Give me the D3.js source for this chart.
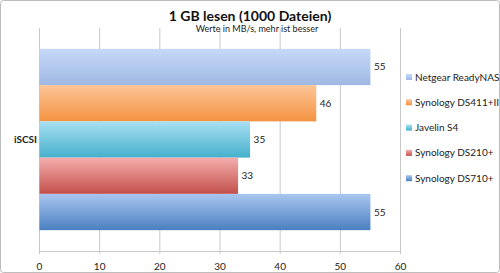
<!DOCTYPE html>
<html>
<head>
<meta charset="utf-8">
<script src="https://cdn.jsdelivr.net/npm/d3@7"></script>
<style>
  body { margin: 0; background: #fff; }
  svg { display: block; font-family: Lato, "Open Sans", sans-serif; }
</style>
</head>
<body>
<svg id="chart" width="500" height="273"></svg>
<script>
// data
const category = 'iSCSI'
const devices = ['Netgear ReadyNAS', 'Synology DS411+II', 'Javelin S4', 'Synology DS210+', 'Synology DS710+']
const values = [55, 46, 35, 33, 55]
const xTicks = [0, 10, 20, 30, 40, 50, 60]
// gradient top / bottom colours per series
const colorsTop = ['#c6d9f8', '#fcc597', '#a9e0f2', '#f4aeac', '#aac6f0']
const colorsBottom = ['#9fb8e3', '#f59343', '#45b0cb', '#c3504c', '#4a7fc0']

const svg = d3.select('#chart')
const W = 500, H = 273
const m = {left: 39, right: 100, top: 28, bottom: 22}

// outer frame
svg.append('rect')
    .attr('x', 0.5).attr('y', 0.5)
    .attr('width', W - 1).attr('height', H - 1)
    .attr('rx', 3)
    .style('fill', '#fff')
    .style('stroke', '#bdbdbd')

const defs = svg.append('defs')
devices.forEach((d, i) => {
    const g = defs.append('linearGradient')
        .attr('id', 'grad' + i)
        .attr('x1', 0).attr('y1', 0).attr('x2', 0).attr('y2', 1)
    g.append('stop').attr('offset', '0%').attr('stop-color', colorsTop[i])
    g.append('stop').attr('offset', '100%').attr('stop-color', colorsBottom[i])
})

const x = d3.scaleLinear().domain([0, 60]).range([m.left, W - m.right])
const yCat = d3.scaleBand().domain([category]).range([m.top, H - m.bottom]).paddingInner(0).paddingOuter(0.115)
const y = d3.scaleBand().domain(devices).range([yCat(category), yCat(category) + yCat.bandwidth()])

// grid lines
svg.append('g')
    .selectAll('line')
    .data(xTicks)
    .enter()
    .append('line')
        .attr('x1', d => x(d) + 0.5)
        .attr('x2', d => x(d) + 0.5)
        .attr('y1', m.top)
        .attr('y2', H - m.bottom + 3)
        .style('stroke', '#c8c8c8')

// bottom axis
svg.append('line')
    .attr('x1', x(0)).attr('x2', x(60) + 1)
    .attr('y1', H - m.bottom + 0.5).attr('y2', H - m.bottom + 0.5)
    .style('stroke', '#c8c8c8')

svg.append('g')
    .selectAll('text')
    .data(xTicks)
    .enter()
    .append('text')
        .attr('x', d => x(d) + 0.5)
        .attr('y', 270)
        .attr('text-anchor', 'middle')
        .style('font-size', '10px')
        .style('fill', '#222')
        .text(d => d)

// bars
svg.append('g')
    .selectAll('rect')
    .data(values)
    .enter()
    .append('rect')
        .attr('x', x(0) + 0.5)
        .attr('y', (d, i) => y(devices[i]))
        .attr('width', d => x(d) - x(0))
        .attr('height', y.bandwidth())
        .style('fill', (d, i) => 'url(#grad' + i + ')')

// value labels
svg.append('g')
    .selectAll('text')
    .data(values)
    .enter()
    .append('text')
        .attr('x', d => x(d) + 4)
        .attr('y', (d, i) => y(devices[i]) + y.bandwidth() / 2 + 3.5)
        .style('font-size', '10px')
        .style('fill', '#222')
        .text(d => d)

// category label
svg.append('text')
    .attr('x', 14)
    .attr('y', yCat(category) + yCat.bandwidth() / 2 + 3.5)
    .style('font-size', '10px')
    .style('font-weight', 'bold')
    .style('fill', '#222')
    .text(category)

// title
svg.append('text')
    .attr('x', 250).attr('y', 21)
    .attr('text-anchor', 'middle')
    .style('font-size', '14px')
    .style('font-weight', 'bold')
    .style('fill', '#111')
    .text('1 GB lesen (1000 Dateien)')

svg.append('text')
    .attr('x', 257).attr('y', 32)
    .attr('text-anchor', 'middle')
    .style('font-size', '9px')
    .style('fill', '#222')
    .text('Werte in MB/s, mehr ist besser')

// legend
const legend = svg.append('g')
    .selectAll('g')
    .data(devices)
    .enter()
    .append('g')
        .attr('transform', (d, i) => 'translate(406,' + (77 + i * 25.3) + ')')

legend.append('rect')
    .attr('x', 0).attr('y', -3)
    .attr('width', 6).attr('height', 6)
    .style('fill', (d, i) => 'url(#grad' + i + ')')

legend.append('text')
    .attr('x', 9).attr('y', 3.5)
    .style('font-size', '10px')
    .style('fill', '#222')
    .text(d => d)
</script>
</body>
</html>
